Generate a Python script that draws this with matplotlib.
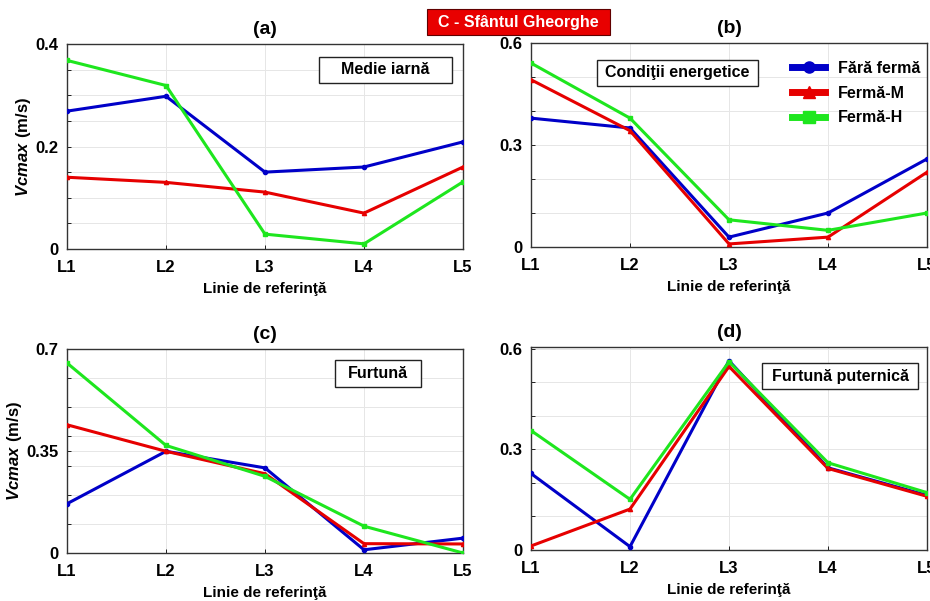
import numpy as np
import matplotlib
matplotlib.use('Agg')
import matplotlib.pyplot as plt
from matplotlib.ticker import MultipleLocator
from matplotlib.patches import Rectangle

plt.rcParams['font.family'] = ['Liberation Sans', 'DejaVu Sans']
plt.rcParams['font.weight'] = 'bold'
plt.rcParams['mathtext.fontset'] = 'custom'
plt.rcParams['mathtext.bfit'] = 'Liberation Sans:italic:bold'
plt.rcParams['mathtext.rm'] = 'Liberation Sans:bold'

lines_x = ['L1', 'L2', 'L3', 'L4', 'L5']
series_names = ['Fără fermă', 'Fermă-M', 'Fermă-H']

# (a) Medie iarna
a_fara = [0.269, 0.298, 0.150, 0.160, 0.209]
a_m = [0.140, 0.130, 0.111, 0.070, 0.160]
a_h = [0.368, 0.319, 0.029, 0.010, 0.131]
# (b) Conditii energetice
b_fara = [0.379, 0.350, 0.029, 0.100, 0.259]
b_m = [0.492, 0.342, 0.009, 0.029, 0.220]
b_h = [0.541, 0.379, 0.080, 0.049, 0.100]
# (c) Furtuna
c_fara = [0.169, 0.349, 0.292, 0.011, 0.051]
c_m = [0.440, 0.349, 0.272, 0.032, 0.031]
c_h = [0.652, 0.369, 0.263, 0.092, 0.0]
# (d) Furtuna puternica
d_fara = [0.228, 0.010, 0.564, 0.245, 0.163]
d_m = [0.012, 0.122, 0.547, 0.243, 0.160]
d_h = [0.356, 0.151, 0.561, 0.260, 0.171]

panels = [
    ('(a)', 'Medie iarnă', [a_fara, a_m, a_h], 0.4, [0, 0.2, 0.4], ['0', '0.2', '0.4'], 0.05),
    ('(b)', 'Condiţii energetice', [b_fara, b_m, b_h], 0.6, [0, 0.3, 0.6], ['0', '0.3', '0.6'], 0.1),
    ('(c)', 'Furtună', [c_fara, c_m, c_h], 0.7, [0, 0.35, 0.7], ['0', '0.35', '0.7'], 0.1),
    ('(d)', 'Furtună puternică', [d_fara, d_m, d_h], 0.605, [0, 0.3, 0.6], ['0', '0.3', '0.6'], 0.1),
]
# axes rectangles in pixels: left, top, right, bottom
rects = [(67, 44, 463, 249), (531, 43, 927, 247), (67, 349, 463, 553), (531, 347, 927, 550)]
# label boxes in pixels: left, top, right, bottom
boxes = [(319, 57, 452, 83), (597, 60, 758, 86), (335, 360, 421, 387), (762, 363, 918, 389)]

colors = ['#0000C8', '#E60000', '#1EE61E']
markers = ['o', '^', 's']

W, H = 930, 601
fig = plt.figure(figsize=(W / 100, H / 100), dpi=100)


def box_text(l, t, r, b, s, fc='white', ec='#222222', color='black', lw=1.0):
    fig.patches.append(Rectangle((l / W, 1 - b / H), (r - l) / W, (b - t) / H,
                                 transform=fig.transFigure, fc=fc, ec=ec, lw=lw, zorder=5))
    fig.text((l + r) / 2 / W, 1 - (t + b) / 2 / H, s, ha='center', va='center',
             fontsize=11.5, fontweight='bold', color=color, zorder=6)


x = np.arange(len(lines_x))
for i, (tag, name, ser, ytop, yt, ytl, minor) in enumerate(panels):
    l, t, r, b = rects[i]
    ax = fig.add_axes([l / W, 1 - b / H, (r - l) / W, (b - t) / H])
    for k, vals in enumerate(ser):
        ax.plot(x, vals, color=colors[k], lw=2.2, marker=markers[k], ms=3,
                label=series_names[k], zorder=3)
    ax.set_xlim(0, 4)
    ax.set_ylim(0, ytop)
    ax.set_xticks(x)
    ax.set_xticklabels(lines_x, fontsize=12, fontweight='bold')
    ax.set_yticks(yt)
    ax.set_yticklabels(ytl, fontsize=12, fontweight='bold')
    ax.yaxis.set_minor_locator(MultipleLocator(minor))
    ax.tick_params(which='both', direction='in', length=3, width=0.6, pad=6)
    ax.tick_params(axis='x', pad=8)
    ax.grid(True, which='both', color='#E6E6E6', lw=0.7, zorder=0)
    for sp in ax.spines.values():
        sp.set_color('#333333')
        sp.set_linewidth(1.0)
    ax.set_title(tag, fontsize=14, fontweight='bold', pad=7)
    ax.set_xlabel('Linie de referinţă', fontsize=11, fontweight='bold', labelpad=5)
    if i in (0, 2):
        ax.set_ylabel(r'$\mathbfit{Vcmax}\ \mathrm{(m/s)}$', fontsize=12, labelpad=2)
    box_text(*boxes[i], name)
    if i == 1:
        leg = ax.legend(loc='upper right', bbox_to_anchor=(1.0, 0.945), frameon=False,
                        fontsize=11.5, handlelength=2.1, labelspacing=0.62,
                        handletextpad=0.8, borderaxespad=0.0)
        for ln in leg.get_lines():
            ln.set_linewidth(5)
            ln.set_markersize(8)
        for tx in leg.get_texts():
            tx.set_fontweight('bold')

box_text(427, 9, 610, 35, 'C - Sfântul Gheorghe', fc='#E80000', ec='#600000',
         color='white', lw=0.8)

fig.savefig('out.png', dpi=100)
